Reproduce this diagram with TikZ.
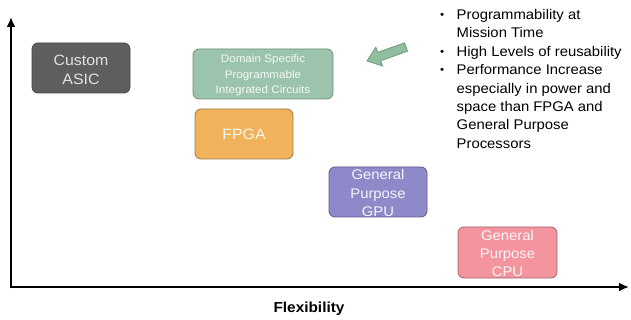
\documentclass[tikz,border=0pt]{standalone}
\usepackage{fontspec}
\setmainfont{Liberation Sans}[FakeStretch=1.06]
\usetikzlibrary{arrows.meta}
\definecolor{asicfill}{HTML}{5E5E5E}
\definecolor{asicline}{HTML}{454545}
\definecolor{asictext}{HTML}{E2E2E2}
\definecolor{dsfill}{HTML}{9CC4AD}
\definecolor{dsline}{HTML}{6E8E7A}
\definecolor{fpgafill}{HTML}{F0B25A}
\definecolor{fpgaline}{HTML}{9C7A48}
\definecolor{gpufill}{HTML}{8E89C8}
\definecolor{gpuline}{HTML}{5F5A8E}
\definecolor{cpufill}{HTML}{F3949E}
\definecolor{cpuline}{HTML}{A0646C}
\definecolor{arrfill}{HTML}{8FBF9F}
\definecolor{arrline}{HTML}{6F9A80}
\tikzset{
  box/.style={rounded corners=6pt, line width=0.8pt, inner sep=0pt, align=center},
  boxtxt/.style={inner sep=0pt, align=center},
  axisline/.style={line width=2.6pt, -{Latex[length=10pt,width=9pt]}},
  bigtxt/.style={font=\fontsize{14}{18.3}\selectfont},
  smalltxt/.style={font=\fontsize{11}{15.5}\selectfont},
  bullettxt/.style={font=\fontsize{14}{18.4}\selectfont, anchor=north west, inner sep=0pt, align=left, text=black},
}
\begin{document}
\begin{tikzpicture}[x=1pt,y=-1pt]
\useasboundingbox (0,0) rectangle (631,320);
% axes
\coordinate (O) at (11,287);
\coordinate (Ytip) at (11,17);
\coordinate (Xtip) at (629,287);
\draw[axisline] (11,288.3) -- (Ytip);
\draw[axisline] (9.7,287) -- (Xtip);
% boxes
\node[box, draw=asicline, fill=asicfill, minimum width=98pt, minimum height=50pt] (asic) at (81,68) {};
\node[boxtxt, text=asictext, font=\fontsize{15}{18.6}\selectfont] (asictxt) at (81,70) {Custom\\ASIC};
\node[box, draw=dsline, fill=dsfill, minimum width=140pt, minimum height=50pt] (dspic) at (263,74) {};
\node[boxtxt, text=white!90!dsfill, smalltxt] (dstxt) at (263,75.5) {Domain Specific\\Programmable\\Integrated Circuits};
\node[box, draw=fpgaline, fill=fpgafill, minimum width=98pt, minimum height=50pt] (fpga) at (244,134) {};
\node[boxtxt, text=white!88!fpgafill, font=\fontsize{15}{18}\selectfont] (fpgatxt) at (244,134) {FPGA};
\node[box, draw=gpuline, fill=gpufill, minimum width=98pt, minimum height=50pt] (gpu) at (378,192) {};
\node[boxtxt, bigtxt, text=white!92!gpufill] (gputxt) at (378,193) {General\\Purpose\\GPU};
\node[box, draw=cpuline, fill=cpufill, minimum width=99pt, minimum height=51pt] (cpu) at (507.5,252.5) {};
\node[boxtxt, bigtxt, text=white!92!cpufill] (cputxt) at (507.5,253.5) {General\\Purpose\\CPU};
% block arrow
\draw[fill=arrfill, draw=arrline, line width=0.8pt, line join=miter]
  (367,61) -- (382.6,66.0) -- (380.7,60.8) -- (407.5,51.2) -- (404.5,42.8) -- (377.7,52.4) -- (375.8,47.2) -- cycle;
% bullets
\newcommand{\bulletdot}{\strut{\fontsize{11}{11}\selectfont\raisebox{0.8pt}{•}}}
\node[bullettxt] (b1) at (440,6.5) {\bulletdot};
\node[bullettxt] (t1) at (456.5,6.5) {\strut Programmability at\\Mission Time};
\node[bullettxt] (b2) at (440,43.3) {\bulletdot};
\node[bullettxt] (t2) at (456.5,43.3) {\strut High Levels of reusability};
\node[bullettxt] (b3) at (440,61.7) {\bulletdot};
\node[bullettxt] (t3) at (456.5,61.7) {\strut Performance Increase\\especially in power and\\space than FPGA and\\General Purpose\\Processors};
% axis label
\node[font=\bfseries\fontsize{14.5}{16}\selectfont, inner sep=0pt] (flex) at (309,309) {Flexibility};
\end{tikzpicture}
\end{document}
